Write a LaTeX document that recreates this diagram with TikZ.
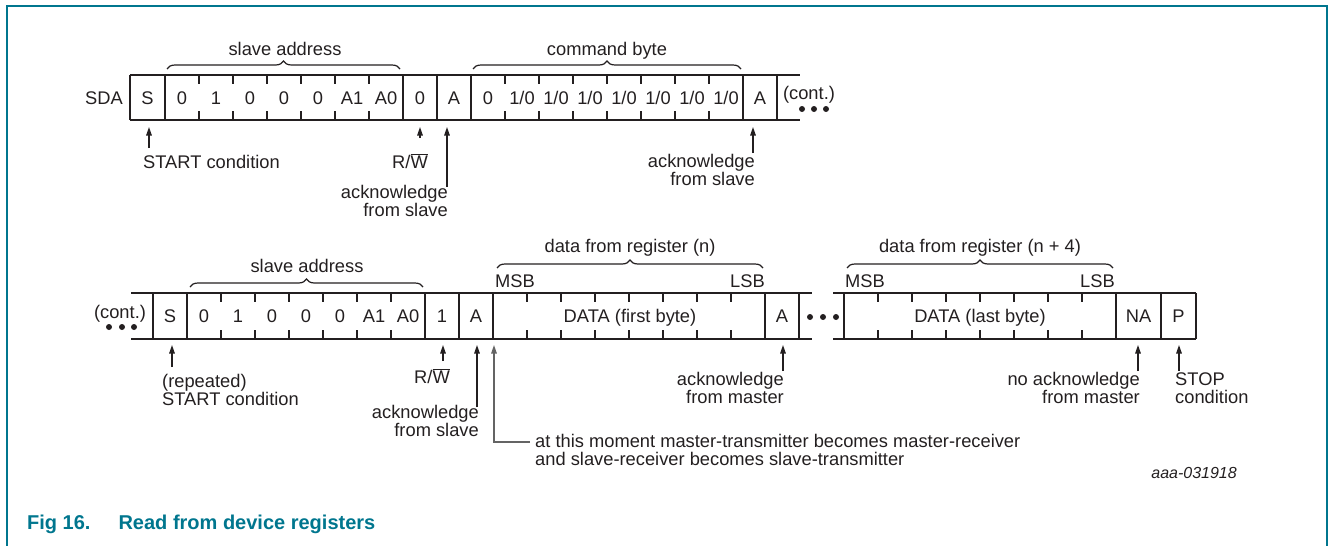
\documentclass[tikz,border=0pt]{standalone}
\usepackage{fontspec}
\setmainfont{Liberation Sans}
\usetikzlibrary{arrows.meta,decorations.pathreplacing}
\definecolor{nxpteal}{RGB}{0,118,142}
\definecolor{ink}{RGB}{35,31,32}
\definecolor{ptrgray}{RGB}{100,100,100}
\newcommand\dg{\fontsize{18.3}{18.5}\selectfont}
\begin{document}
\begin{tikzpicture}[x=1pt,y=-1pt,
  rowline/.style={line width=2.8pt, ink},
  divline/.style={line width=2.4pt, ink},
  tickline/.style={line width=2.2pt, ink},
  cell/.style={inner sep=0pt, anchor=base, font=\dg, text=ink},
  lbl/.style={inner sep=0pt, font=\dg, text=ink, align=left},
  lblr/.style={inner sep=0pt, font=\dg, text=ink, align=right},
  ptr/.style={line width=1.3pt, ink, -{Triangle[width=5.5pt,length=8.5pt]}},
  brc/.style={decorate, decoration={brace, amplitude=8pt}, line width=1.2pt, ink},
  dot/.style={circle, fill=ink, inner sep=0pt, minimum size=6pt}]
\useasboundingbox (0,0) rectangle (1328,546);
% frame
\draw[nxpteal, line width=2pt] (7,546) -- (7,6) -- (1327,6) -- (1327,546);

% ================= top row =================
\draw[rowline] (130,75) -- (800,75);
\draw[rowline] (130,120) -- (800,120);
\foreach \x in {130,165,403,437,471,743,777} \draw[divline] (\x,75) -- (\x,120);
\foreach \x in {199,233,267,301,335,369,505,539,573,607,641,675,709} {
  \draw[tickline] (\x,75) -- (\x,84);
  \draw[tickline] (\x,120) -- (\x,111);
}
\node[cell] (sda) at (104,104) {SDA};
\node[cell] (t0) at (147.5,104) {S};
\node[cell] (t1) at (182,104) {0};
\node[cell] (t2) at (216,104) {1};
\node[cell] (t3) at (250,104) {0};
\node[cell] (t4) at (284,104) {0};
\node[cell] (t5) at (318,104) {0};
\node[cell] (t6) at (352,104) {A1};
\node[cell] (t7) at (386,104) {A0};
\node[cell] (t8) at (420,104) {0};
\node[cell] (t9) at (454,104) {A};
\node[cell] (c1) at (488,104) {0};
\node[cell] (c2) at (522,104) {1/0};
\node[cell] (c3) at (556,104) {1/0};
\node[cell] (c4) at (590,104) {1/0};
\node[cell] (c5) at (624,104) {1/0};
\node[cell] (c6) at (658,104) {1/0};
\node[cell] (c7) at (692,104) {1/0};
\node[cell] (c8) at (726,104) {1/0};
\node[cell] (c9) at (760,104) {A};
\node[cell] (tcont) at (809,99) {(cont.)};
\node[dot] (td1) at (802,109) {};
\node[dot] (td2) at (814,109) {};
\node[dot] (td3) at (826,109) {};

\draw[brc] (167,69) -- (400,69);
\node[cell] (tsa) at (285,55) {slave address};
\draw[brc] (473,69) -- (741,69);
\node[cell] (tcb) at (607,55) {command byte};

\node[lbl, anchor=base west] (tstart) at (143,168) {START condition};
\coordinate (tstartA) at (149,148);
\coordinate (tstartB) at (149,127);
\draw[ptr] (tstartA) -- (tstartB);

\node[lblr, anchor=base east] (trw) at (428,168) {R/$\overline{\mbox{W}}$};
\coordinate (trwA) at (420,138);
\coordinate (trwB) at (420,127);
\draw[ptr] (trwA) -- (trwB);

\node[lblr, anchor=base east] (tack1) at (448,216.5) {acknowledge\\from slave};
\coordinate (tack1A) at (447,187);
\coordinate (tack1B) at (447,127);
\draw[ptr] (tack1A) -- (tack1B);

\node[lblr, anchor=base east] (tack2) at (755,185.5) {acknowledge\\from slave};
\coordinate (tack2A) at (753,153);
\coordinate (tack2B) at (753,127);
\draw[ptr] (tack2A) -- (tack2B);

% ================= bottom row =================
\draw[rowline] (131,293) -- (812,293);
\draw[rowline] (131,339) -- (812,339);
\draw[rowline] (833,293) -- (1196,293);
\draw[rowline] (833,339) -- (1196,339);
\foreach \x in {153,187,425,459,493,765,799,844,1116,1161,1196} \draw[divline] (\x,293) -- (\x,339);
\foreach \x in {221,255,289,323,357,391,527,561,595,629,663,697,731,878,912,946,980,1014,1048,1082} {
  \draw[tickline] (\x,293) -- (\x,302);
  \draw[tickline] (\x,339) -- (\x,330);
}
\node[cell] (bcont) at (120,318) {(cont.)};
\node[dot] (bd1) at (109,327) {};
\node[dot] (bd2) at (122,327) {};
\node[dot] (bd3) at (134,327) {};
\node[cell] (b0) at (170,322.5) {S};
\node[cell] (b1) at (204,322.5) {0};
\node[cell] (b2) at (238,322.5) {1};
\node[cell] (b3) at (272,322.5) {0};
\node[cell] (b4) at (306,322.5) {0};
\node[cell] (b5) at (340,322.5) {0};
\node[cell] (b6) at (374,322.5) {A1};
\node[cell] (b7) at (408,322.5) {A0};
\node[cell] (b8) at (442,322.5) {1};
\node[cell] (b9) at (476,322.5) {A};
\node[cell] (bdata1) at (630,322.5) {DATA (first byte)};
\node[cell] (bA) at (782,322.5) {A};
\node[dot] (gd1) at (810,317) {};
\node[dot] (gd2) at (823,317) {};
\node[dot] (gd3) at (836,317) {};
\node[cell] (bdata2) at (980,322.5) {DATA (last byte)};
\node[cell] (bNA) at (1138.5,322.5) {NA};
\node[cell] (bP) at (1178.5,322.5) {P};

\draw[brc] (190,287) -- (423,287);
\node[cell] (bsa) at (307,272) {slave address};
\draw[brc] (497,268) -- (763,268);
\node[cell] (bdr1) at (630,252) {data from register (n)};
\draw[brc] (847,268) -- (1113,268);
\node[cell] (bdr2) at (980,252) {data from register (n + 4)};
\node[lbl, anchor=base west] (msb1) at (495,287) {MSB};
\node[lbl, anchor=base east] (lsb1) at (765,287) {LSB};
\node[lbl, anchor=base west] (msb2) at (845,287) {MSB};
\node[lbl, anchor=base east] (lsb2) at (1115,287) {LSB};

\node[lbl, anchor=base west] (bstart) at (162,405.5) {(repeated)\\START condition};
\coordinate (bstartA) at (172,367);
\coordinate (bstartB) at (172,345);
\draw[ptr] (bstartA) -- (bstartB);

\node[lblr, anchor=base east] (brw) at (450,383) {R/$\overline{\mbox{W}}$};
\coordinate (brwA) at (443,361);
\coordinate (brwB) at (443,345);
\draw[ptr] (brwA) -- (brwB);

\node[lblr, anchor=base east] (back1) at (479,436.5) {acknowledge\\from slave};
\coordinate (back1A) at (477,407);
\coordinate (back1B) at (477,345);
\draw[ptr] (back1A) -- (back1B);

\node[lbl, anchor=base west] (bmode) at (535,465.5) {at this moment master-transmitter becomes master-receiver\\and slave-receiver becomes slave-transmitter};
\coordinate (bmodeA) at (530,442);
\coordinate (bmodeB) at (494,345);
\draw[ptr, ptrgray] (bmodeA) -| (bmodeB);

\node[lblr, anchor=base east] (backm) at (784,403.5) {acknowledge\\from master};
\coordinate (backmA) at (783,371);
\coordinate (backmB) at (783,345);
\draw[ptr] (backmA) -- (backmB);

\node[lblr, anchor=base east] (bnack) at (1140,403.5) {no acknowledge\\from master};
\coordinate (bnackA) at (1138,371);
\coordinate (bnackB) at (1138,345);
\draw[ptr] (bnackA) -- (bnackB);

\node[lbl, anchor=base west] (bstop) at (1175,403.5) {STOP\\condition};
\coordinate (bstopA) at (1179,371);
\coordinate (bstopB) at (1179,345);
\draw[ptr] (bstopA) -- (bstopB);

\node[inner sep=0pt, anchor=base east, font=\fontsize{16}{18}\selectfont\itshape, text=ink] (code) at (1237,478) {aaa-031918};

% caption
\node[inner sep=0pt, anchor=base west, font=\fontsize{20}{22}\selectfont\bfseries, text=nxpteal] (cap) at (27,529) {Fig 16.\hspace{28pt}Read from device registers};
\end{tikzpicture}
\end{document}
